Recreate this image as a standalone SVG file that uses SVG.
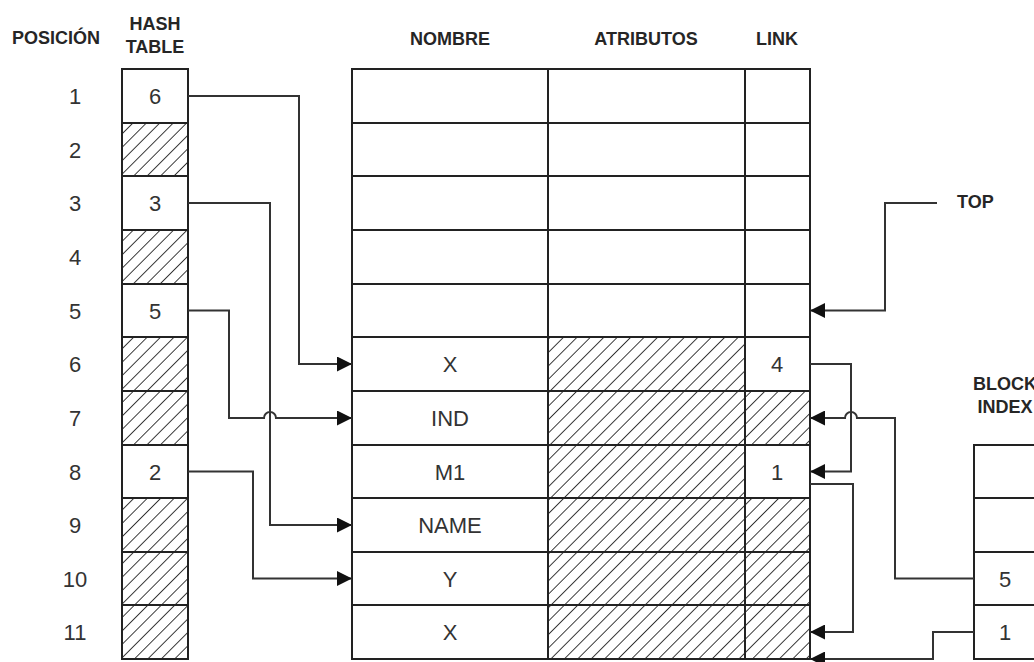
<svg xmlns="http://www.w3.org/2000/svg" width="1034" height="662" viewBox="0 0 1034 662">
<style>
.hdr{font-family:"Liberation Sans",Arial,sans-serif;font-weight:bold;font-size:18px;fill:#262626}
.num{font-family:"Liberation Sans",Arial,sans-serif;font-size:22px;fill:#333;text-anchor:middle}
.cell{fill:#fff;stroke:#222;stroke-width:2}
.hat{fill:url(#hatch);stroke:#222;stroke-width:2}
.con{fill:none;stroke:#333;stroke-width:2}
.arr{marker-end:url(#ah)}
</style>
<defs>
<pattern id="hatch" patternUnits="userSpaceOnUse" width="9.5" height="9.5" patternTransform="rotate(45)">
<rect width="9.5" height="9.5" fill="#fff"/>
<line x1="0" y1="-1" x2="0" y2="10.5" stroke="#1a1a1a" stroke-width="1.7"/>
</pattern>
<marker id="ah" markerUnits="userSpaceOnUse" markerWidth="15" markerHeight="15" refX="15" refY="7.5" orient="auto">
<path d="M0,0 L15,7.5 L0,15 z" fill="#111"/>
</marker>
</defs>
<rect width="1034" height="662" fill="#fff"/>

<g id="headers">
<text class="hdr" x="12" y="44">POSICIÓN</text>
<text class="hdr" x="155" y="30" text-anchor="middle">HASH</text>
<text class="hdr" x="155" y="53" text-anchor="middle">TABLE</text>
<text class="hdr" x="450" y="45" text-anchor="middle">NOMBRE</text>
<text class="hdr" x="646" y="45" text-anchor="middle">ATRIBUTOS</text>
<text class="hdr" x="777" y="45" text-anchor="middle">LINK</text>
</g>

<g id="positions">
<text class="num" x="75" y="104">1</text>
<text class="num" x="75" y="157.5">2</text>
<text class="num" x="75" y="211">3</text>
<text class="num" x="75" y="265">4</text>
<text class="num" x="75" y="318.5">5</text>
<text class="num" x="75" y="372">6</text>
<text class="num" x="75" y="426">7</text>
<text class="num" x="75" y="479.5">8</text>
<text class="num" x="75" y="533">9</text>
<text class="num" x="75" y="586.5">10</text>
<text class="num" x="75" y="640">11</text>
</g>

<g id="hash-table">
<rect class="cell" x="122" y="69" width="66" height="54"/>
<rect class="hat" x="122" y="123" width="66" height="53"/>
<rect class="cell" x="122" y="176" width="66" height="54"/>
<rect class="hat" x="122" y="230" width="66" height="54"/>
<rect class="cell" x="122" y="284" width="66" height="53"/>
<rect class="hat" x="122" y="337" width="66" height="54"/>
<rect class="hat" x="122" y="391" width="66" height="54"/>
<rect class="cell" x="122" y="445" width="66" height="53"/>
<rect class="hat" x="122" y="498" width="66" height="54"/>
<rect class="hat" x="122" y="552" width="66" height="53"/>
<rect class="hat" x="122" y="605" width="66" height="54"/>
<text class="num" x="155" y="104">6</text>
<text class="num" x="155" y="211">3</text>
<text class="num" x="155" y="318.5">5</text>
<text class="num" x="155" y="479.5">2</text>
</g>

<g id="symbol-table">
<rect class="cell" x="352" y="69" width="458" height="268"/>
<line class="cell" x1="352" y1="123" x2="810" y2="123"/>
<line class="cell" x1="352" y1="176" x2="810" y2="176"/>
<line class="cell" x1="352" y1="230" x2="810" y2="230"/>
<line class="cell" x1="352" y1="284" x2="810" y2="284"/>
<line class="cell" x1="548" y1="69" x2="548" y2="337"/>
<line class="cell" x1="745" y1="69" x2="745" y2="337"/>
<rect class="cell" x="352" y="337" width="196" height="54"/>
<rect class="cell" x="352" y="391" width="196" height="54"/>
<rect class="cell" x="352" y="445" width="196" height="53"/>
<rect class="cell" x="352" y="498" width="196" height="54"/>
<rect class="cell" x="352" y="552" width="196" height="53"/>
<rect class="cell" x="352" y="605" width="196" height="54"/>
<rect class="hat" x="548" y="337" width="197" height="54"/>
<rect class="hat" x="548" y="391" width="197" height="54"/>
<rect class="hat" x="548" y="445" width="197" height="53"/>
<rect class="hat" x="548" y="498" width="197" height="54"/>
<rect class="hat" x="548" y="552" width="197" height="53"/>
<rect class="hat" x="548" y="605" width="197" height="54"/>
<rect class="cell" x="745" y="337" width="65" height="54"/>
<rect class="hat" x="745" y="391" width="65" height="54"/>
<rect class="cell" x="745" y="445" width="65" height="53"/>
<rect class="hat" x="745" y="498" width="65" height="54"/>
<rect class="hat" x="745" y="552" width="65" height="53"/>
<rect class="hat" x="745" y="605" width="65" height="54"/>
<text class="num" x="450" y="372">X</text>
<text class="num" x="450" y="426">IND</text>
<text class="num" x="450" y="479.5">M1</text>
<text class="num" x="450" y="533">NAME</text>
<text class="num" x="450" y="586.5">Y</text>
<text class="num" x="450" y="640">X</text>
<text class="num" x="777" y="372">4</text>
<text class="num" x="777" y="479.5">1</text>
</g>

<g id="top-label">
<text class="hdr" x="957" y="208">TOP</text>
</g>

<g id="block-index">
<text class="hdr" x="1005" y="390" text-anchor="middle">BLOCK</text>
<text class="hdr" x="1005" y="413" text-anchor="middle">INDEX</text>
<rect class="cell" x="974" y="445" width="70" height="53"/>
<rect class="cell" x="974" y="498" width="70" height="54"/>
<rect class="cell" x="974" y="552" width="70" height="53"/>
<rect class="cell" x="974" y="605" width="70" height="54"/>
<text class="num" x="1005" y="586.5">5</text>
<text class="num" x="1005" y="640">1</text>
</g>

<g id="connectors">
<path class="con arr" d="M188,96 H299 V364 H352"/>
<path class="con arr" d="M188,203 H270 V525 H352"/>
<path class="con arr" d="M188,310.5 H229 V418 H264 A6,6 0 0 1 276,418 H352"/>
<path class="con arr" d="M188,471.5 H253 V578.5 H352"/>
<path class="con arr" d="M937,203 H885 V310.5 H810"/>
<path class="con arr" d="M810,364 H851 V471.5 H810"/>
<path class="con arr" d="M810,484 H853 V632 H810"/>
<path class="con arr" d="M974,578.5 H895 V418 H857 A6,6 0 0 0 845,418 H810"/>
<path class="con arr" d="M974,632 H933 V659 H810"/>
</g>
</svg>
